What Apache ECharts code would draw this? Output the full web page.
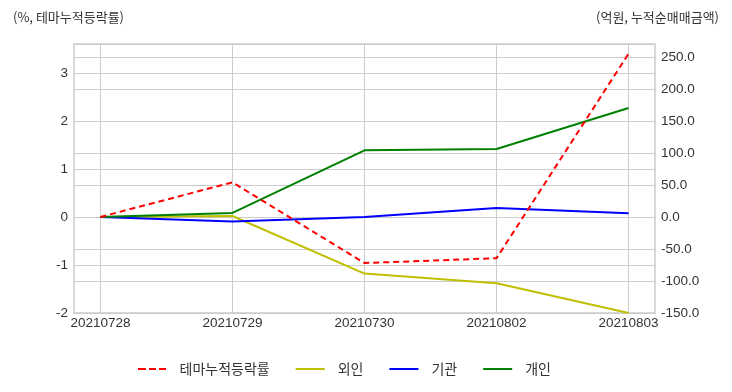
<!DOCTYPE html>
<html><head><meta charset="utf-8">
<script src="https://cdn.jsdelivr.net/npm/echarts@6/dist/echarts.min.js"></script>
<style>html,body{margin:0;padding:0;background:#fff}#c{width:732px;height:392px}</style>
</head><body><div id="c"></div>
<script>
const dates = ['20210728','20210729','20210730','20210802','20210803'];
const themeRate = [0, 0.72, -0.96, -0.86, 3.40];
const foreign = [0, 1.5, -88.5, -103.6, -150];
const institution = [0, -7.3, 0, 14, 5.8];
const individual = [0, 6.3, 104, 106, 170];
const leftTicks = [-2, -1, 0, 1, 2, 3];
const rightTicks = [-150, -100, -50, 0, 50, 100, 150, 200, 250];
const xIdx = dates.map((d, i) => i);

const FONT = "'Liberation Sans', 'Noto Sans CJK KR', sans-serif";
const KFONT = "'Noto Sans CJK KR', sans-serif";
const pts = arr => arr.map((v, i) => [i, v]);
const chart = echarts.init(document.getElementById('c'));
chart.setOption({
  animation: false,
  textStyle: { fontFamily: FONT },
  title: [
    { text: '(%, 테마누적등락률)', left: 8, top: 6, textStyle: { fontSize: 13, fontWeight: 'normal', color: '#333', fontFamily: KFONT } },
    { text: '(억원, 누적순매매금액)', right: 8, top: 6, textStyle: { fontSize: 13, fontWeight: 'normal', color: '#333', fontFamily: KFONT } }
  ],
  grid: { left: 74, right: 77, top: 44, bottom: 79, show: true, borderColor: '#cccccc', borderWidth: 1.5, backgroundColor: 'transparent' },
  legend: {
    bottom: 11, left: 133, itemWidth: 29, itemHeight: 2, itemGap: 26,
    textStyle: { fontSize: 14, color: '#333', fontFamily: KFONT, padding: [0, 0, 0, 8] },
    data: [
      { name: '테마누적등락률', icon: 'path://M0,0 L8,0 L8,2 L0,2 Z M11,0 L18,0 L18,2 L11,2 Z M21,0 L28,0 L28,2 L21,2 Z' },
      { name: '외인', icon: 'rect' },
      { name: '기관', icon: 'rect' },
      { name: '개인', icon: 'rect' }
    ]
  },
  xAxis: {
    type: 'value', min: -0.2, max: 4.2,
    axisLine: { show: false },
    axisTick: { show: false, customValues: xIdx },
    splitLine: { show: true, lineStyle: { color: '#cccccc', width: 1 } },
    axisLabel: { customValues: xIdx, formatter: v => dates[Math.round(v)] || '', fontSize: 13.5, color: '#333', margin: 4, fontFamily: FONT }
  },
  yAxis: [
    {
      type: 'value', min: -2, max: 3.6, interval: 1,
      axisLine: { show: false }, axisTick: { show: false },
      splitLine: { show: true, lineStyle: { color: '#cccccc', width: 1 } },
      axisLabel: { customValues: leftTicks, formatter: v => String(v), fontSize: 13.5, color: '#333', margin: 6, fontFamily: FONT }
    },
    {
      type: 'value', min: -150, max: 270, interval: 50,
      axisLine: { show: false }, axisTick: { show: false },
      splitLine: { show: true, lineStyle: { color: '#cccccc', width: 1 } },
      axisLabel: { customValues: rightTicks, formatter: v => v.toFixed(1), fontSize: 13.5, color: '#333', margin: 6, fontFamily: FONT }
    }
  ],
  series: [
    { name: '테마누적등락률', type: 'line', yAxisIndex: 0, data: pts(themeRate), showSymbol: false, symbol: 'none', color: '#ff0000',
      lineStyle: { color: '#ff0000', width: 2, type: [6, 4] }, z: 5 },
    { name: '외인', type: 'line', yAxisIndex: 1, data: pts(foreign), showSymbol: false, symbol: 'none', color: '#bfbf00',
      lineStyle: { color: '#bfbf00', width: 2 } },
    { name: '기관', type: 'line', yAxisIndex: 1, data: pts(institution), showSymbol: false, symbol: 'none', color: '#0000ff',
      lineStyle: { color: '#0000ff', width: 2 } },
    { name: '개인', type: 'line', yAxisIndex: 1, data: pts(individual), showSymbol: false, symbol: 'none', color: '#008000',
      lineStyle: { color: '#008000', width: 2 } }
  ]
});
</script></body></html>
